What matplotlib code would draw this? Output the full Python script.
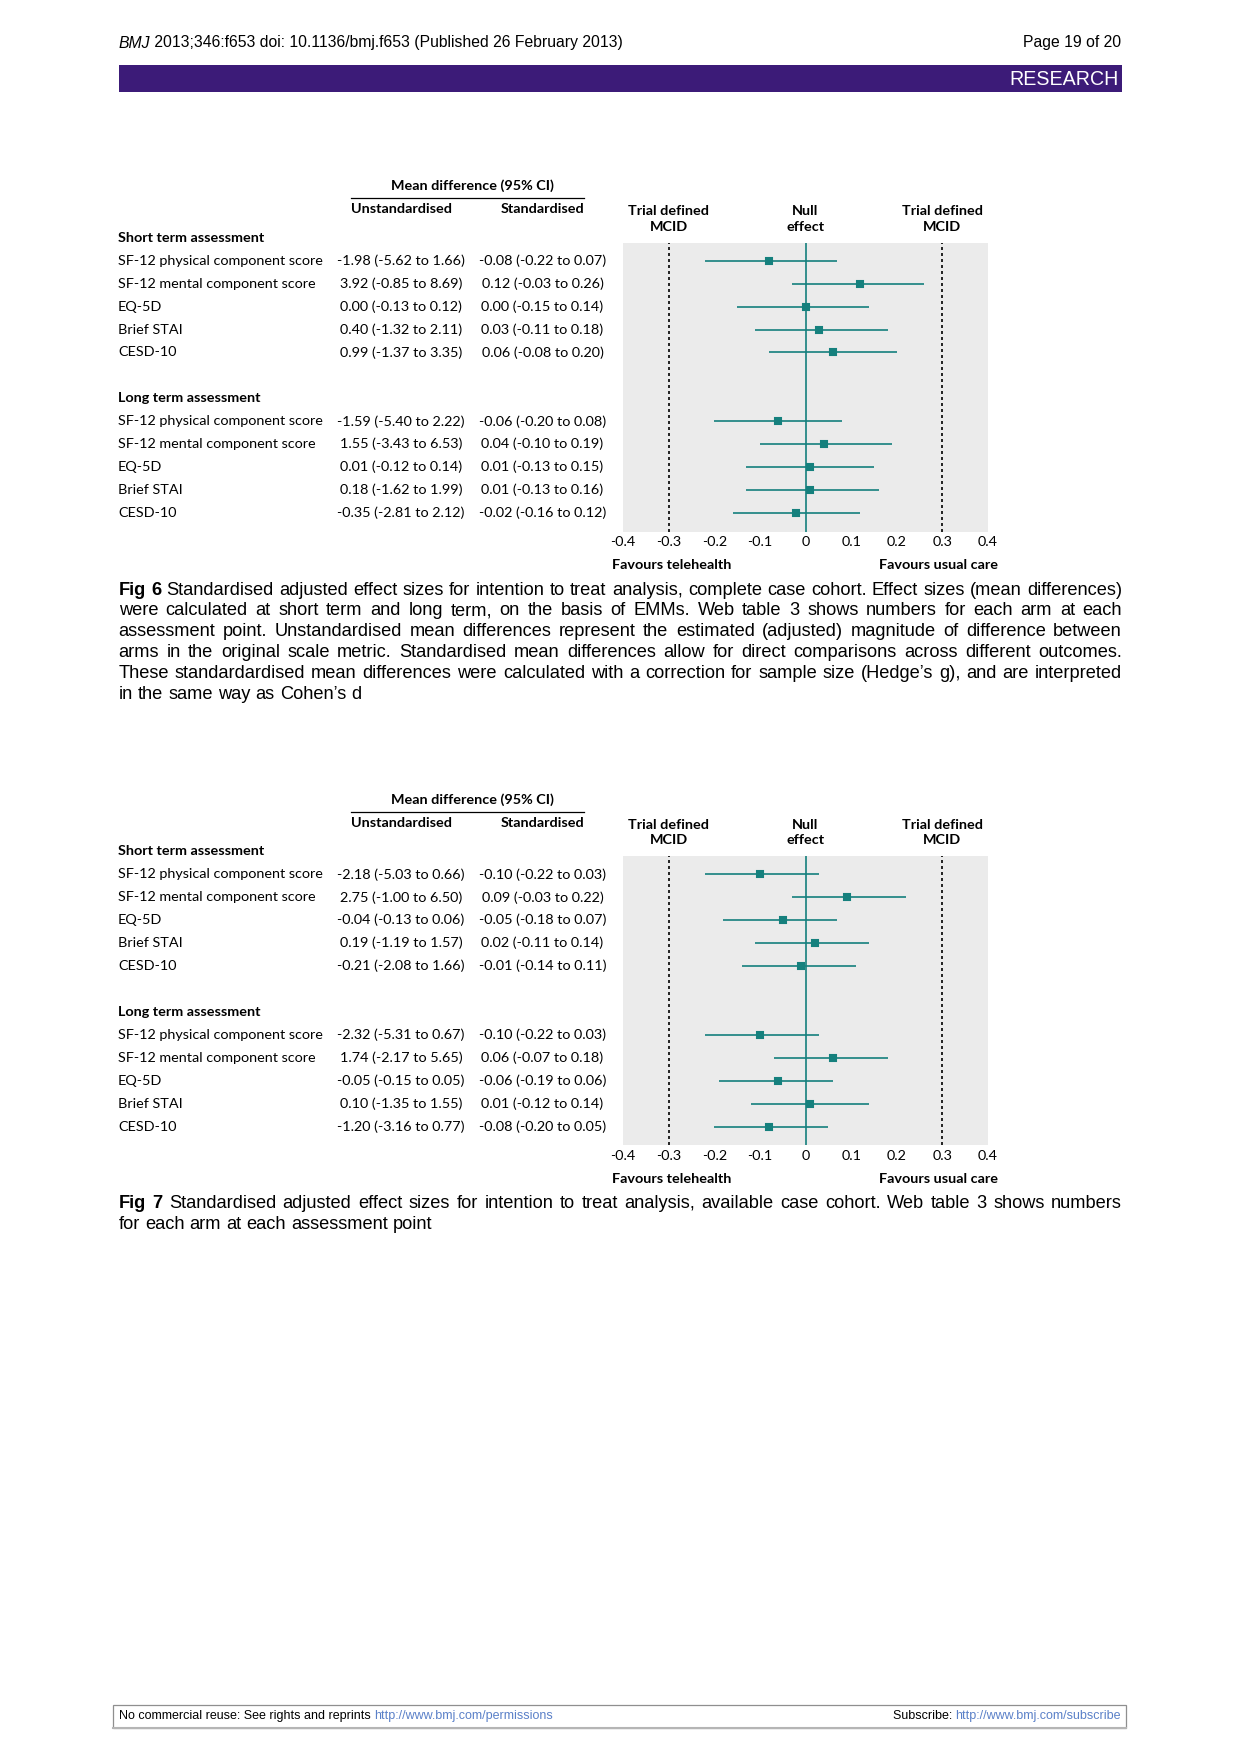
import matplotlib
matplotlib.use("Agg")
import matplotlib.pyplot as plt
import matplotlib.transforms as mtransforms
from matplotlib.patches import Rectangle
from matplotlib.lines import Line2D

# ---------------- data ----------------
outcomes = ["SF-12 physical component score", "SF-12 mental component score",
            "EQ-5D", "Brief STAI", "CESD-10"]
sections = ["Short term assessment", "Long term assessment"]

# Fig 6 (complete case cohort): (estimate, lower, upper)
fig6_short_unstd = [(-1.98, -5.62, 1.66), (3.92, -0.85, 8.69), (0.00, -0.13, 0.12),
                    (0.40, -1.32, 2.11), (0.99, -1.37, 3.35)]
fig6_short_std = [(-0.08, -0.22, 0.07), (0.12, -0.03, 0.26), (0.00, -0.15, 0.14),
                  (0.03, -0.11, 0.18), (0.06, -0.08, 0.20)]
fig6_long_unstd = [(-1.59, -5.40, 2.22), (1.55, -3.43, 6.53), (0.01, -0.12, 0.14),
                   (0.18, -1.62, 1.99), (-0.35, -2.81, 2.12)]
fig6_long_std = [(-0.06, -0.20, 0.08), (0.04, -0.10, 0.19), (0.01, -0.13, 0.15),
                 (0.01, -0.13, 0.16), (-0.02, -0.16, 0.12)]

# Fig 7 (available case cohort)
fig7_short_unstd = [(-2.18, -5.03, 0.66), (2.75, -1.00, 6.50), (-0.04, -0.13, 0.06),
                    (0.19, -1.19, 1.57), (-0.21, -2.08, 1.66)]
fig7_short_std = [(-0.10, -0.22, 0.03), (0.09, -0.03, 0.22), (-0.05, -0.18, 0.07),
                  (0.02, -0.11, 0.14), (-0.01, -0.14, 0.11)]
fig7_long_unstd = [(-2.32, -5.31, 0.67), (1.74, -2.17, 5.65), (-0.05, -0.15, 0.05),
                   (0.10, -1.35, 1.55), (-1.20, -3.16, 0.77)]
fig7_long_std = [(-0.10, -0.22, 0.03), (0.06, -0.07, 0.18), (-0.06, -0.19, 0.06),
                 (0.01, -0.12, 0.14), (-0.08, -0.20, 0.05)]

xticks = [-0.4, -0.3, -0.2, -0.1, 0.0, 0.1, 0.2, 0.3, 0.4]
xtick_labels = ["-0.4", "-0.3", "-0.2", "-0.1", "0", "0.1", "0.2", "0.3", "0.4"]
mcid = 0.3

caption6 = [
    "Fig 6 Standardised adjusted effect sizes for intention to treat analysis, complete case cohort. Effect sizes (mean differences)",
    "were calculated at short term and long term, on the basis of EMMs. Web table 3 shows numbers for each arm at each",
    "assessment point. Unstandardised mean differences represent the estimated (adjusted) magnitude of difference between",
    "arms in the original scale metric. Standardised mean differences allow for direct comparisons across different outcomes.",
    "These standardardised mean differences were calculated with a correction for sample size (Hedge\u2019s g), and are interpreted",
    "in the same way as Cohen\u2019s d",
]
caption7 = [
    "Fig 7 Standardised adjusted effect sizes for intention to treat analysis, available case cohort. Web table 3 shows numbers",
    "for each arm at each assessment point",
]

# ---------------- page setup ----------------
W, H = 1241, 1754
DPI = 150
plt.rcParams['axes.unicode_minus'] = False
fig = plt.figure(figsize=(W / DPI, H / DPI), dpi=DPI)
renderer = fig.canvas.get_renderer()

TEAL = "#15807d"
PURPLE = "#3c1b78"
LINK = "#5a80c8"
CF = "Lato"
PF = "Liberation Sans"
CS = 6.9   # chart font size


def fx(x):
    return x / W


def fy(y):
    return 1 - y / H


def text_width(t):
    return t.get_window_extent(renderer).width


# ---------------- page header / footer ----------------
HS = 7.55
t = fig.text(fx(118.6), fy(43.0), "BMJ", fontsize=HS, family=PF, style="italic",
             ha="left", va="center")
w = text_width(t)
fig.text(fx(118.6 + w), fy(43.0), " 2013;346:f653 doi: 10.1136/bmj.f653 (Published 26 February 2013)",
         fontsize=HS, family=PF, ha="left", va="center")
fig.text(fx(1121), fy(43.0), "Page 19 of 20", fontsize=HS, family=PF, ha="right", va="center")
fig.patches.append(Rectangle((fx(118.6), fy(91.8)), fx(1122) - fx(118.6), (91.8 - 65.3) / H,
                             transform=fig.transFigure, facecolor=PURPLE, edgecolor="none"))
fig.text(fx(1119), fy(79.5), "RESEARCH", fontsize=9.4, family=PF, color="white",
         ha="right", va="center")

# footer box
FS = 6.0
fig.patches.append(Rectangle((fx(113), fy(1727.5)), fx(1126) - fx(113), (1727.5 - 1704.5) / H,
                             transform=fig.transFigure, facecolor="white", edgecolor="#8f8f8f",
                             linewidth=0.6))
fig.lines.append(Line2D([fx(113), fx(1126)], [fy(1728.3), fy(1728.3)], transform=fig.transFigure,
                        color="#b5b5b5", linewidth=1.0))
t = fig.text(fx(119), fy(1716), "No commercial reuse: See rights and reprints ", fontsize=FS,
             family=PF, ha="left", va="center")
w = text_width(t)
fig.text(fx(119 + w), fy(1716), "http://www.bmj.com/permissions", fontsize=FS, family=PF,
         color=LINK, ha="left", va="center")
t = fig.text(fx(1121), fy(1716), "http://www.bmj.com/subscribe", fontsize=FS, family=PF,
             color=LINK, ha="right", va="center")
w = text_width(t)
fig.text(fx(1121 - w), fy(1716), "Subscribe: ", fontsize=FS, family=PF, ha="right", va="center")


# ---------------- forest plot ----------------
def fmt(v):
    return "{:.2f} ({:.2f} to {:.2f})".format(*v)


def draw_forest(yo, short_unstd, short_std, long_unstd, long_std):
    top, bottom = 242.7 + yo, 531.7 + yo
    ax = fig.add_axes([fx(623), fy(bottom), fx(988) - fx(623), (bottom - top) / H])
    ax.set_facecolor("#ebebeb")
    for s in ax.spines.values():
        s.set_visible(False)
    ax.set_xlim(-0.4, 0.4)
    ax.set_ylim(11.815, -0.785)
    ax.set_yticks([])
    ax.set_xticks(xticks)
    ax.set_xticklabels(xtick_labels, family=CF, fontsize=CS)
    ax.tick_params(axis="x", length=0, pad=2.2)

    ax.axvline(-mcid, color="black", lw=0.8, ls=(0, (1.8, 1.8)))
    ax.axvline(mcid, color="black", lw=0.8, ls=(0, (1.8, 1.8)))
    ax.axvline(0, color=TEAL, lw=0.8)

    trans = mtransforms.blended_transform_factory(fig.transFigure, ax.transData)
    xdata_yfig = mtransforms.blended_transform_factory(ax.transData, fig.transFigure)

    groups = [(sections[0], 0, short_unstd, short_std), (sections[1], 7, long_unstd, long_std)]
    for title, start, unstd, std in groups:
        ax.text(fx(118), start - 1, title, transform=trans, family=CF, fontsize=CS,
                fontweight="bold", ha="left", va="center")
        for i, name in enumerate(outcomes):
            r = start + i
            ax.text(fx(118), r, name, transform=trans, family=CF, fontsize=CS,
                    ha="left", va="center")
            ax.text(fx(401), r, fmt(unstd[i]), transform=trans, family=CF, fontsize=CS,
                    ha="center", va="center")
            ax.text(fx(542.5), r, fmt(std[i]), transform=trans, family=CF, fontsize=CS,
                    ha="center", va="center")
            est, lo, hi = std[i]
            ax.hlines(r, lo, hi, color=TEAL, lw=0.8)
            ax.plot([est], [r], marker="s", ms=3.0, color=TEAL, mec=TEAL, ls="none")

    # column headers
    fig.text(fx(472), fy(186 + yo), "Mean difference (95% CI)", family=CF, fontsize=CS,
             fontweight="bold", ha="center", va="center")
    fig.lines.append(Line2D([fx(351), fx(584)], [fy(198.3 + yo)] * 2, transform=fig.transFigure,
                            color="black", lw=0.6))
    fig.text(fx(401), fy(209.3 + yo), "Unstandardised", family=CF, fontsize=CS,
             fontweight="bold", ha="center", va="center")
    fig.text(fx(543), fy(209.3 + yo), "Standardised", family=CF, fontsize=CS,
             fontweight="bold", ha="center", va="center")
    for xv, lab in [(-mcid, "Trial defined\nMCID"), (0, "Null\neffect"), (mcid, "Trial defined\nMCID")]:
        ax.text(xv, fy(219.0 + yo), lab, transform=xdata_yfig, family=CF, fontsize=CS,
                fontweight="bold", ha="center", va="center", linespacing=1.35)
    fig.text(fx(611.7), fy(565.0 + yo), "Favours telehealth", family=CF, fontsize=CS,
             fontweight="bold", ha="left", va="center")
    fig.text(fx(997.7), fy(565.0 + yo), "Favours usual care", family=CF, fontsize=CS,
             fontweight="bold", ha="right", va="center")
    return ax


draw_forest(0, fig6_short_unstd, fig6_short_std, fig6_long_unstd, fig6_long_std)
draw_forest(613.6, fig7_short_unstd, fig7_short_std, fig7_long_unstd, fig7_long_std)


# ---------------- captions (justified) ----------------
LEFT, RIGHT = 118.6, 1122.0


def natural_width(line, first, size):
    words = line.split(" ")
    total = 0.0
    for wi, word in enumerate(words):
        bold = first and wi < 2
        t = fig.text(0, 0, word, family=PF, fontsize=size,
                     fontweight="bold" if bold else "normal")
        total += text_width(t)
        t.remove()
    st = fig.text(0, 0, "a a", family=PF, fontsize=size)
    sa = fig.text(0, 0, "aa", family=PF, fontsize=size)
    sw = text_width(st) - text_width(sa)
    st.remove()
    sa.remove()
    return total + sw * (len(words) - 1)


# font size so that the widest justified line fits the column with plain spaces
base = 10.0
widest = 0.0
for cap in (caption6, caption7):
    for li, line in enumerate(cap[:-1]):
        widest = max(widest, natural_width(line, li == 0, base))
CAP_SIZE = base * (RIGHT - LEFT) / widest * 0.998
BASE_OFF = CAP_SIZE * DPI / 72 * 0.36   # centre-of-caps to baseline distance (px)


def draw_caption(lines, y0, dy):
    st = fig.text(0, 0, "a a", family=PF, fontsize=CAP_SIZE)
    sa = fig.text(0, 0, "aa", family=PF, fontsize=CAP_SIZE)
    space_w = text_width(st) - text_width(sa)
    st.remove()
    sa.remove()
    for li, line in enumerate(lines):
        words = line.split(" ")
        y = fy(y0 + li * dy + BASE_OFF)
        items = []
        for wi, word in enumerate(words):
            bold = li == 0 and wi < 2
            t = fig.text(0, y, word, family=PF, fontsize=CAP_SIZE,
                         fontweight="bold" if bold else "normal", ha="left", va="baseline")
            items.append((t, text_width(t)))
        total = sum(wd for _, wd in items)
        last = li == len(lines) - 1
        if last or len(items) < 2:
            gap = space_w
        else:
            gap = (RIGHT - LEFT - total) / (len(items) - 1)
        x = LEFT
        for t, wd in items:
            t.set_x(fx(x))
            x += wd + gap


draw_caption(caption6, 588.0, 20.8)
draw_caption(caption7, 1201.0, 21.0)

fig.savefig("out.png", dpi=DPI)
